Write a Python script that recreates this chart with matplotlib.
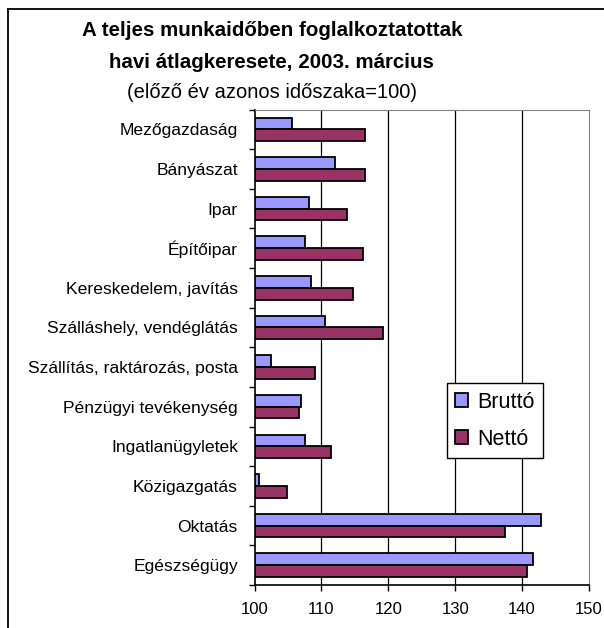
import numpy as np
import matplotlib
matplotlib.use("Agg")
import matplotlib.pyplot as plt
from matplotlib.lines import Line2D
from matplotlib.ticker import FixedLocator

plt.rcParams["font.family"] = ["Liberation Sans", "DejaVu Sans"]

# categories, top to bottom as in the picture
categories = ["Mezőgazdaság", "Bányászat", "Ipar", "Építőipar",
              "Kereskedelem, javítás", "Szálláshely, vendéglátás",
              "Szállítás, raktározás, posta", "Pénzügyi tevékenység",
              "Ingatlanügyletek", "Közigazgatás", "Oktatás", "Egészségügy"]
brutto = [105.6, 112.0, 108.1, 107.5, 108.4, 110.5, 102.4, 106.9, 107.5, 100.6, 142.8, 141.6]
netto = [116.5, 116.5, 113.8, 116.2, 114.7, 119.2, 109.0, 106.6, 111.4, 104.8, 137.4, 140.7]
xticks = [100, 110, 120, 130, 140, 150]

fig = plt.figure(figsize=(6.04, 6.28), dpi=100)
ax = fig.add_axes([254.5 / 604, 1 - 585 / 628, 334.5 / 604, 475.5 / 628])

n = len(categories)
pos = np.arange(n)
h = 0.295
ax.barh(pos - h / 2, np.array(brutto) - 100, h, left=100, color="#9999ff",
        edgecolor="black", linewidth=1.3, zorder=3, label="Bruttó")
ax.barh(pos + h / 2, np.array(netto) - 100, h, left=100, color="#993366",
        edgecolor="black", linewidth=1.3, zorder=3, label="Nettó")

ax.set_xlim(100, 150)
ax.set_ylim(n - 0.5, -0.5)
ax.set_xticks(xticks)
ax.set_xticklabels([str(t) for t in xticks], fontsize=12)
ax.set_yticks(pos)
ax.set_yticklabels(categories, fontsize=12.6)
ax.yaxis.set_minor_locator(FixedLocator(np.arange(n + 1) - 0.5))
ax.tick_params(axis="y", which="major", length=0, pad=12)
ax.tick_params(axis="y", which="minor", length=4, width=1, direction="out")
ax.tick_params(axis="x", length=4, width=1, direction="out", pad=8)

for v in xticks[1:-1]:
    ax.axvline(v, color="#000000", linewidth=0.9, zorder=1)
ax.spines["left"].set_linewidth(1.2)
ax.spines["bottom"].set_linewidth(1.2)
ax.spines["right"].set_color("#808080")
ax.spines["top"].set_color("#808080")

leg = ax.legend(loc="upper left", bbox_to_anchor=(0.575, 0.425), fontsize=15.5,
                frameon=True, fancybox=False, edgecolor="black", framealpha=1,
                handlelength=0.59, handleheight=0.59, handletextpad=0.42,
                labelspacing=0.75, borderpad=0.4, borderaxespad=0)
leg.get_frame().set_linewidth(1.0)

fig.text(0.450, 1 - 31 / 628, "A teljes munkaidőben foglalkoztatottak",
         ha="center", va="center", fontsize=14.8, fontweight="bold")
fig.text(0.450, 1 - 62 / 628, "havi átlagkeresete, 2003. március",
         ha="center", va="center", fontsize=14.8, fontweight="bold")
fig.text(0.450, 1 - 92 / 628, "(előző év azonos időszaka=100)",
         ha="center", va="center", fontsize=14.5)

# outer chart frame (only top and left edges visible)
fig.add_artist(Line2D([8 / 604, 1], [1 - 9 / 628, 1 - 9 / 628], color="black",
                      linewidth=1.3, transform=fig.transFigure))
fig.add_artist(Line2D([8 / 604, 8 / 604], [0, 1 - 9 / 628], color="black",
                      linewidth=1.3, transform=fig.transFigure))

fig.savefig("out.png", dpi=100)
